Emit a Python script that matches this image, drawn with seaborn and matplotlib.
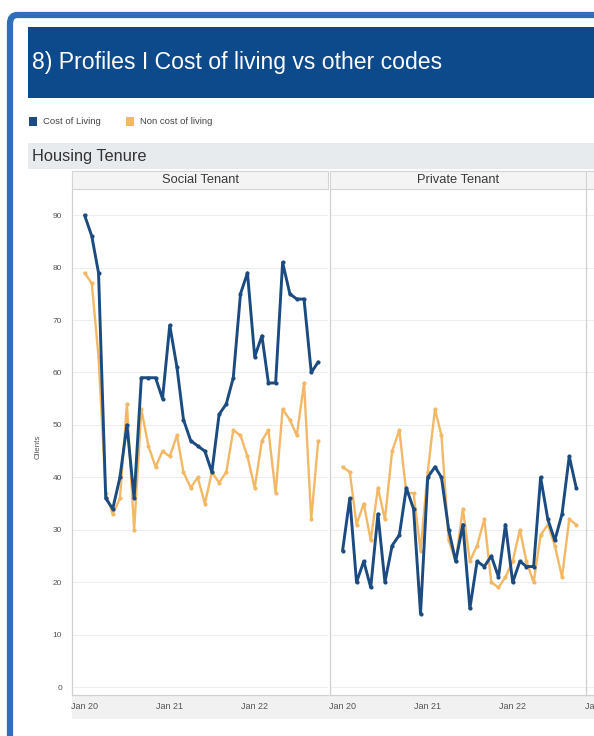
import pandas as pd
import matplotlib
matplotlib.use("Agg")
import matplotlib.pyplot as plt
import seaborn as sns
from matplotlib.patches import Rectangle, FancyBboxPatch

# monthly points, Jan 2020 onwards
months = pd.date_range("2020-01-01", periods=34, freq="MS")

social_col = [90, 86, 79, 36, 34, 40, 50, 36, 59, 59, 59, 55, 69, 61, 51, 47, 46, 45, 41, 52,
              54, 59, 75, 79, 63, 67, 58, 58, 81, 75, 74, 74, 60, 62]
social_non = [79, 77, 63, 37, 33, 36, 54, 30, 53, 46, 42, 45, 44, 48, 41, 38, 40, 35, 41, 39,
              41, 49, 48, 44, 38, 47, 49, 37, 53, 51, 48, 58, 32, 47]
private_col = [26, 36, 20, 24, 19, 33, 20, 27, 29, 38, 34, 14, 40, 42, 40, 30, 24, 31, 15, 24,
               23, 25, 21, 31, 20, 24, 23, 23, 40, 32, 28, 33, 44, 38]
private_non = [42, 41, 31, 35, 28, 38, 32, 45, 49, 37, 37, 26, 41, 53, 48, 28, 24, 34, 24, 27,
               32, 20, 19, 21, 24, 30, 24, 20, 29, 31, 27, 21, 32, 31]

panels = ["Social Tenant", "Private Tenant", ""]
series_names = ["Cost of Living", "Non cost of living"]
colors = {"Cost of Living": "#1b4b80", "Non cost of living": "#f3b865"}
tick_dates = pd.to_datetime(["2020-01-01", "2021-01-01", "2022-01-01"])
tick_labels = ["Jan 20", "Jan 21", "Jan 22"]
yticks = list(range(0, 100, 10))

sns.set_style("white")
plt.rcParams["font.family"] = ["Liberation Sans", "DejaVu Sans"]

W, H = 594, 736
fig = plt.figure(figsize=(W / 100, H / 100), dpi=100)

def fx(x):
    return x / W

def fy(y):
    return 1 - y / H

def box(x, y0, w, y1, **kw):
    # rectangle in pixel coords (y from top), drawn behind the axes
    kw.setdefault("edgecolor", "none")
    kw.setdefault("zorder", -5)
    fig.add_artist(Rectangle((fx(x), fy(y1)), fx(w), fy(y0) - fy(y1),
                             transform=fig.transFigure, **kw))

# outer blue frame
fig.add_artist(FancyBboxPatch((fx(10), fy(760)), fx(620), fy(15) - fy(760),
                              boxstyle="round,pad=0,rounding_size=0.012",
                              transform=fig.transFigure, facecolor="white",
                              edgecolor="#2f6fb6", linewidth=4.5, zorder=-10))

# title banner
box(28, 27, 570, 98, facecolor="#0c4a8c")
fig.text(fx(32), fy(63), "8) Profiles I Cost of living vs other codes", color="white",
         fontsize=16.6, va="center", ha="left")

# legend
box(29, 117, 8, 126, facecolor=colors["Cost of Living"])
fig.text(fx(43), fy(122), "Cost of Living", fontsize=6.8, va="center", color="#444444")
box(126, 117, 8, 126, facecolor=colors["Non cost of living"])
fig.text(fx(140), fy(122), "Non cost of living", fontsize=6.8, va="center", color="#444444")

# section band
box(28, 143, 570, 169, facecolor="#e8ebee")
fig.text(fx(32), fy(156), "Housing Tenure", fontsize=11.8, va="center", color="#333333")

# x axis band
box(72, 695, 530, 719, facecolor="#f1f1f1")

data = {
    "Social Tenant": {"Cost of Living": social_col, "Non cost of living": social_non},
    "Private Tenant": {"Cost of Living": private_col, "Non cost of living": private_non},
}

lefts = [72, 330, 586]
pw = 256
top, bottom = 190, 695
x0 = pd.Timestamp("2019-11-08")
x1 = pd.Timestamp("2022-11-12")

for i, (name, left) in enumerate(zip(panels, lefts)):
    ax = fig.add_axes([fx(left), fy(bottom), fx(pw), fy(top) - fy(bottom)])
    # facet header
    box(left, 171, pw, 189, facecolor="#f4f4f4", edgecolor="#d4d4d4", linewidth=0.8)
    fig.text(fx(left + pw / 2), fy(180), name, fontsize=9.3, ha="center", va="center",
             color="#3a3a3a")
    if name in data:
        for s in series_names[::-1]:
            df = pd.DataFrame({"month": months, "clients": data[name][s]})
            sns.lineplot(data=df, x="month", y="clients", ax=ax, color=colors[s],
                         linewidth=2.1 if s == "Cost of Living" else 1.7,
                         marker="o", markersize=3, markeredgewidth=0)
    ax.set_xlim(x0, x1)
    ax.set_ylim(-1.5, 94.8)
    ax.set_yticks(yticks)
    ax.set_xticks(tick_dates)
    ax.set_xticklabels(tick_labels)
    ax.grid(axis="y", color="#ededed", linewidth=0.7)
    ax.set_axisbelow(True)
    ax.tick_params(axis="x", length=0, pad=5, labelsize=6.5, labelcolor="#555555")
    ax.tick_params(axis="y", length=0, pad=7, labelsize=6, labelcolor="#555555")
    if i > 0:
        ax.set_yticklabels([])
    ax.set_xlabel("")
    ax.set_ylabel("")
    for sp in ["top", "right"]:
        ax.spines[sp].set_visible(False)
    for sp in ["left", "bottom"]:
        ax.spines[sp].set_color("#d0d0d0")
        ax.spines[sp].set_linewidth(0.9)
    ax.set_facecolor("none")

fig.text(fx(38), fy(447), "Clients", rotation=90, fontsize=5.8, ha="center", va="center",
         color="#555555")

fig.savefig("out.png", dpi=100)
